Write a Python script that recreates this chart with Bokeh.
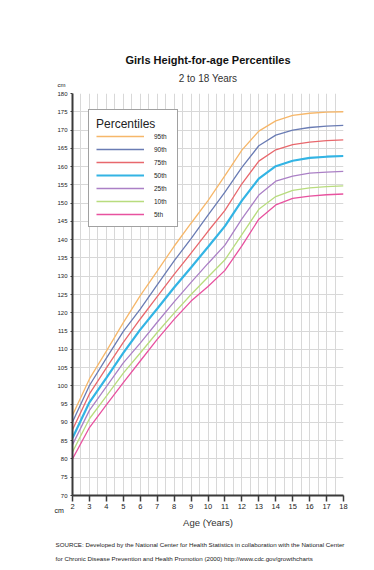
from bokeh.plotting import figure
from bokeh.models import Range1d, SingleIntervalTicker, FixedTicker, Legend, LegendItem, Title
from bokeh.embed import file_html
from bokeh.resources import INLINE

ages = list(range(2, 19))
p95 = [92.0, 101.9, 109.5, 117.3, 124.7, 131.4, 138.2, 144.5, 150.7, 157.5, 164.5, 169.7, 172.5, 174.0, 174.6, 174.9, 175.0]
p90 = [90.1, 100.1, 107.6, 114.9, 121.0, 127.6, 134.2, 140.3, 146.7, 153.0, 159.8, 165.7, 168.6, 170.0, 170.7, 171.1, 171.3]
p75 = [88.0, 97.8, 104.9, 111.9, 118.3, 124.4, 130.5, 136.3, 142.3, 148.0, 155.3, 161.5, 164.6, 166.0, 166.7, 167.1, 167.3]
p50 = [85.7, 95.5, 102.2, 109.0, 115.4, 121.1, 126.9, 132.4, 138.0, 143.7, 150.7, 156.7, 160.1, 161.6, 162.4, 162.7, 162.9]
p25 = [83.9, 93.3, 99.8, 106.3, 111.7, 117.4, 123.0, 128.3, 133.5, 138.5, 145.7, 152.2, 156.0, 157.4, 158.2, 158.5, 158.7]
p10 = [81.9, 91.0, 97.2, 103.5, 109.0, 114.6, 119.9, 125.0, 129.8, 134.5, 141.4, 148.3, 151.8, 153.5, 154.2, 154.5, 154.7]
p5 = [80.0, 88.6, 94.8, 100.9, 106.8, 112.7, 118.2, 123.2, 127.2, 131.6, 138.3, 145.6, 149.5, 151.3, 151.9, 152.3, 152.5]

series_names = ["95th", "90th", "75th", "50th", "25th", "10th", "5th"]
series_values = [p95, p90, p75, p50, p25, p10, p5]
series_colors = ["#f6b76a", "#6a7cb4", "#e8686d", "#33b4e4", "#ab80c6", "#b8dc7e", "#e8529f"]
y_ticks = list(range(70, 181, 5))

FONT = "Liberation Sans"

BL, BT = 72, 93
FW, FH = 271, 402
W, H = 358, 562
BR, BB = W - BL - FW, H - BT - FH

p = figure(width=W, height=H, x_range=Range1d(2, 18), y_range=Range1d(70, 180),
           output_backend="svg", toolbar_location=None,
           min_border_left=BL, min_border_right=BR, min_border_top=BT, min_border_bottom=BB)
p.title.visible = False
p.outline_line_color = None
p.background_fill_color = "white"

p.xgrid.ticker = SingleIntervalTicker(interval=0.5)
p.ygrid.ticker = SingleIntervalTicker(interval=5)
p.xgrid.grid_line_color = "#d8d8d8"
p.ygrid.grid_line_color = "#d8d8d8"
p.xgrid.grid_line_width = 1
p.ygrid.grid_line_width = 1

p.xaxis.ticker = FixedTicker(ticks=ages)
p.yaxis.ticker = FixedTicker(ticks=y_ticks)
for ax in (p.xaxis[0], p.yaxis[0]):
    ax.axis_line_color = "#3a3a3a"
    ax.axis_line_width = 2
    ax.major_tick_line_color = "#3a3a3a"
    ax.minor_tick_line_color = None
    ax.major_label_text_font = FONT
    ax.major_label_text_color = "#222222"
p.xaxis.major_tick_in = 0
p.xaxis.major_tick_out = 6
p.xaxis.major_tick_line_width = 1.5
p.xaxis.major_label_standoff = 2
p.xaxis.major_label_text_font_size = "7.5px"
p.yaxis.major_tick_in = 0
p.yaxis.major_tick_out = 2
p.yaxis.major_label_standoff = 3
p.yaxis.major_label_text_font_size = "6px"

items = []
for name, vals, col in zip(series_names, series_values, series_colors):
    lw = 2.2 if name == "50th" else 1.3
    r = p.line(ages, vals, line_color=col, line_width=lw)
    items.append(LegendItem(label=name, renderers=[r]))

legend = Legend(items=items, location="top_left", margin=16,
                title="Percentiles", title_text_font=FONT, title_text_font_size="12px",
                title_text_font_style="normal", title_text_color="#222222", title_standoff=0,
                label_text_font=FONT, label_text_font_size="6.5px", label_text_color="#222222",
                glyph_width=48, glyph_height=10, label_height=10, spacing=3,
                padding=7, label_standoff=10, label_width=16,
                border_line_color="#444444", border_line_width=1.5,
                background_fill_color="white", background_fill_alpha=1.0)
p.add_layout(legend)


def side_text(place, txt, size, style="normal", align="center", offset=0, valign="bottom",
              standoff=0, color="#111111"):
    p.add_layout(Title(text=txt, align=align, offset=offset, vertical_align=valign,
                       standoff=standoff, text_font=FONT, text_font_size=size,
                       text_font_style=style, text_color=color), place)


# above: stacked outward from the frame
side_text("above", "cm", "6px", align="left", offset=-15, valign="top", standoff=8)
side_text("above", "2 to 18 Years", "10px", color="#333333", standoff=-12)
side_text("above", "Girls Height-for-age Percentiles", "11px", style="bold", standoff=21)
# below: stacked outward from the x axis
side_text("below", "cm", "7px", align="left", offset=-18, valign="top", standoff=-10)
side_text("below", "Age (Years)", "9.5px", color="#333333", standoff=6)
side_text("below", "SOURCE:  Developed by  the National Center for Health Statistics in collaboration with the National Center",
          "6.2px", align="left", offset=-17, standoff=17, color="#222222")
side_text("below", "for Chronic Disease Prevention and Health Promotion (2000)  http://www.cdc.gov/growthcharts",
          "6.2px", align="left", offset=-17, standoff=-8.5, color="#222222")

open("out.html", "w").write(file_html(p, INLINE))
